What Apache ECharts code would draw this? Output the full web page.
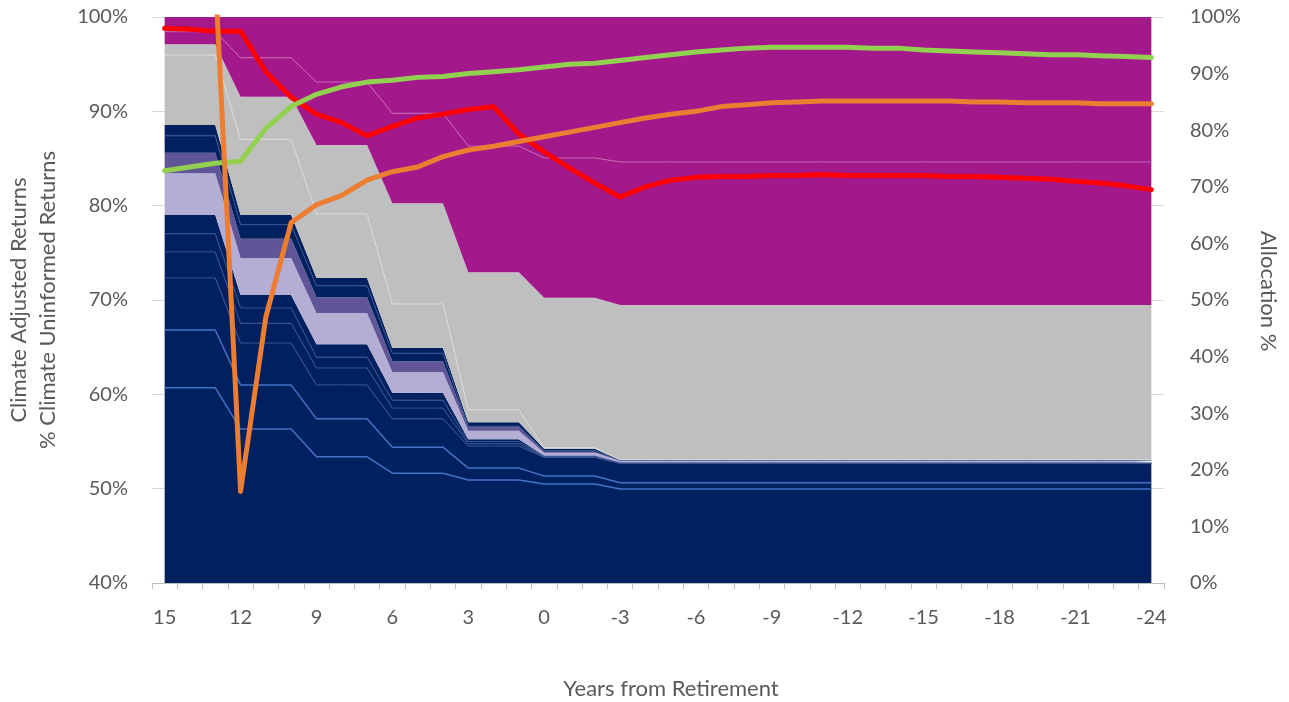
<!DOCTYPE html>
<html>
<head>
<meta charset="utf-8">
<script src="https://cdn.jsdelivr.net/npm/echarts/dist/echarts.min.js"></script>
<style>
html,body{margin:0;padding:0;background:#ffffff;}
#chart{width:1289px;height:702px;}
</style>
</head>
<body>
<div id="chart"></div>
<script>
// Categories: years from retirement
const years = ['15','14','13','12','11','10','9','8','7','6','5','4','3','2','1','0','-1','-2','-3','-4','-5','-6','-7','-8','-9','-10','-11','-12','-13','-14','-15','-16','-17','-18','-19','-20','-21','-22','-23','-24'];

// Allocation layers (right axis, %), bottom to top
const alloc1 = [34.5,34.5,34.5,27.2,27.2,27.2,22.3,22.3,22.3,19.4,19.4,19.4,18.2,18.2,18.2,17.5,17.5,17.5,
  16.6,16.6,16.6,16.6,16.6,16.6,16.6,16.6,16.6,16.6,16.6,
  16.6,16.6,16.6,16.6,16.6,16.6,16.6,16.6,16.6,16.6,16.6];
const alloc2 = [10.2,10.2,10.2,7.8,7.8,7.8,6.7,6.7,6.7,4.6,4.6,4.6,2.1,2.1,2.1,1.4,1.4,1.4,
  1.1,1.1,1.1,1.1,1.1,1.1,1.1,1.1,1.1,1.1,1.1,
  1.1,1.1,1.1,1.1,1.1,1.1,1.1,1.1,1.1,1.1,1.1];
const alloc3 = [9.2,9.2,9.2,7.4,7.4,7.4,6.0,6.0,6.0,5.0,5.0,5.0,3.9,3.9,3.9,3.3,3.3,3.3,
  3.4,3.4,3.4,3.4,3.4,3.4,3.4,3.4,3.4,3.4,3.4,
  3.4,3.4,3.4,3.4,3.4,3.4,3.4,3.4,3.4,3.4,3.4];
const alloc4 = [4.6,4.6,4.6,3.5,3.5,3.5,3.0,3.0,3.0,1.9,1.9,1.9,0.4,0.4,0.4,0.1,0.1,0.1,
  0.05,0.05,0.05,0.05,0.05,0.05,0.05,0.05,0.05,0.05,0.05,
  0.05,0.05,0.05,0.05,0.05,0.05,0.05,0.05,0.05,0.05,0.05];
const alloc5 = [3.2,3.2,3.2,2.7,2.7,2.7,1.9,1.9,1.9,1.4,1.4,1.4,0.4,0.4,0.4,0.1,0.1,0.1,
  0.05,0.05,0.05,0.05,0.05,0.05,0.05,0.05,0.05,0.05,0.05,
  0.05,0.05,0.05,0.05,0.05,0.05,0.05,0.05,0.05,0.05,0.05];
const alloc6 = [3.3,3.3,3.3,2.3,2.3,2.3,2.3,2.3,2.3,1.3,1.3,1.3,0.4,0.4,0.4,0.1,0.1,0.1,
  0.05,0.05,0.05,0.05,0.05,0.05,0.05,0.05,0.05,0.05,0.05,
  0.05,0.05,0.05,0.05,0.05,0.05,0.05,0.05,0.05,0.05,0.05];
const alloc7 = [7.4,7.4,7.4,6.5,6.5,6.5,5.5,5.5,5.5,3.7,3.7,3.7,1.5,1.5,1.5,0.5,0.5,0.5,
  0.35,0.35,0.35,0.35,0.35,0.35,0.35,0.35,0.35,0.35,0.35,
  0.35,0.35,0.35,0.35,0.35,0.35,0.35,0.35,0.35,0.35,0.35];
const alloc8 = [3.6,3.6,3.6,3.4,3.4,3.4,2.8,2.8,2.8,1.9,1.9,1.9,0.6,0.6,0.6,0.2,0.2,0.2,
  0.05,0.05,0.05,0.05,0.05,0.05,0.05,0.05,0.05,0.05,0.05,
  0.05,0.05,0.05,0.05,0.05,0.05,0.05,0.05,0.05,0.05,0.05];
const alloc9 = [3.0,3.0,3.0,2.5,2.5,2.5,2.0,2.0,2.0,1.4,1.4,1.4,0.2,0.2,0.2,0.2,0.2,0.2,
  0.05,0.05,0.05,0.05,0.05,0.05,0.05,0.05,0.05,0.05,0.05,
  0.05,0.05,0.05,0.05,0.05,0.05,0.05,0.05,0.05,0.05,0.05];
const alloc10 = [1.9,1.9,1.9,1.7,1.7,1.7,1.4,1.4,1.4,0.9,0.9,0.9,0.7,0.7,0.7,0.3,0.3,0.3,
  0.05,0.05,0.05,0.05,0.05,0.05,0.05,0.05,0.05,0.05,0.05,
  0.05,0.05,0.05,0.05,0.05,0.05,0.05,0.05,0.05,0.05,0.05];
const alloc11 = [12.4,12.4,12.4,13.4,13.4,13.4,11.3,11.3,11.3,7.8,7.8,7.8,2.2,2.2,2.2,0.2,0.2,0.2,
  0.05,0.05,0.05,0.05,0.05,0.05,0.05,0.05,0.05,0.05,0.05,
  0.05,0.05,0.05,0.05,0.05,0.05,0.05,0.05,0.05,0.05,0.05];
const alloc12 = [1.9,1.9,1.9,7.5,7.5,7.5,12.2,12.2,12.2,17.8,17.8,17.8,24.3,24.3,24.3,26.5,26.5,26.5,
  27.3,27.3,27.3,27.3,27.3,27.3,27.3,27.3,27.3,27.3,27.3,
  27.3,27.3,27.3,27.3,27.3,27.3,27.3,27.3,27.3,27.3,27.3];
const alloc13 = [2.2,2.2,2.2,6.9,6.9,6.9,11.1,11.1,11.1,15.9,15.9,15.9,22.3,22.3,22.3,24.7,24.7,24.7,
  25.3,25.3,25.3,25.3,25.3,25.3,25.3,25.3,25.3,25.3,25.3,
  25.3,25.3,25.3,25.3,25.3,25.3,25.3,25.3,25.3,25.3,25.3];
const alloc14 = [2.6,2.6,2.6,7.2,7.2,7.2,11.5,11.5,11.5,17.0,17.0,17.0,22.8,22.8,22.8,24.9,24.9,24.9,
  25.6,25.6,25.6,25.6,25.6,25.6,25.6,25.6,25.6,25.6,25.6,
  25.6,25.6,25.6,25.6,25.6,25.6,25.6,25.6,25.6,25.6,25.6];

// Return lines (left axis, %)
const redLine = [98.8,98.7,98.5,98.5,94.2,91.5,89.7,88.8,87.4,88.4,89.3,89.7,90.2,90.5,87.6,85.7,84.0,82.4,80.9,82.0,
  82.7,83.0,83.1,83.1,83.2,83.2,83.3,83.2,83.2,83.2,83.2,83.1,83.1,83.0,82.9,82.8,82.6,82.4,82.1,81.7];
const greenLine = [83.7,84.1,84.5,84.7,88.2,90.5,91.8,92.6,93.1,93.3,93.6,93.7,94.0,94.2,94.4,94.7,95.0,95.1,95.4,95.7,
  96.0,96.3,96.5,96.7,96.8,96.8,96.8,96.8,96.7,96.7,96.5,96.4,96.3,96.2,96.1,96.0,96.0,95.9,95.8,95.7];
const orangeLine = [null,null,104.5,49.7,68.2,78.2,80.1,81.1,82.7,83.6,84.1,85.2,85.9,86.3,86.8,87.3,87.8,88.3,88.8,89.3,
  89.7,90.0,90.5,90.7,90.9,91.0,91.1,91.1,91.1,91.1,91.1,91.1,91.0,91.0,90.9,90.9,90.9,90.8,90.8,90.8];

const leftTicks = {min: 40, max: 100, interval: 10};
const rightTicks = {min: 0, max: 100, interval: 10};

const FONT = 'Lato';
const TXT = '#595959';
const NAVY = '#002060';

function area(name, data, fill, lineColor, lineWidth) {
  return {
    name: name, type: 'line', stack: 'alloc', yAxisIndex: 1, data: data,
    symbol: 'none', smooth: false, silent: true,
    areaStyle: {color: fill, opacity: 1},
    lineStyle: lineColor ? {color: lineColor, width: lineWidth} : {opacity: 0, width: 0}
  };
}
function line(name, data, color) {
  return {
    name: name, type: 'line', yAxisIndex: 0, data: data, symbol: 'none',
    smooth: false, silent: true, connectNulls: false, z: 5,
    lineStyle: {color: color, width: 5, cap: 'round', join: 'round'}
  };
}

const chart = echarts.init(document.getElementById('chart'), null, {renderer: 'canvas'});
chart.setOption({
  animation: false,
  backgroundColor: '#ffffff',
  textStyle: {fontFamily: FONT},
  grid: {left: 152, right: 125, top: 17, bottom: 119, containLabel: false, outerBoundsMode: 'none'},
  xAxis: {
    type: 'category', data: years, boundaryGap: true,
    axisLine: {show: true, lineStyle: {color: '#BFBFBF', width: 1}},
    axisTick: {show: true, interval: 0, length: 6, lineStyle: {color: '#BFBFBF'}},
    axisLabel: {interval: 2, color: TXT, fontSize: 20, fontFamily: FONT, margin: 25},
    splitLine: {show: false},
    name: 'Years from Retirement', nameLocation: 'middle', nameGap: 95,
    nameTextStyle: {color: TXT, fontSize: 22, fontFamily: FONT, padding: [0, 0, 0, 26]}
  },
  yAxis: [
    {
      type: 'value', position: 'left', min: leftTicks.min, max: leftTicks.max, interval: leftTicks.interval,
      axisLine: {show: false}, axisTick: {show: false},
      axisLabel: {formatter: '{value}%', color: TXT, fontSize: 20, fontFamily: FONT, margin: 24},
      splitLine: {show: true, lineStyle: {color: '#D9D9D9', width: 1}},
      name: 'Climate Adjusted Returns\n% Climate Uninformed Returns',
      nameLocation: 'middle', nameRotate: 90, nameGap: 90,
      nameTextStyle: {color: TXT, fontSize: 22, fontFamily: FONT, lineHeight: 29}
    },
    {
      type: 'value', position: 'right', min: rightTicks.min, max: rightTicks.max, interval: rightTicks.interval,
      axisLine: {show: false}, axisTick: {show: false},
      axisLabel: {formatter: '{value}%', color: TXT, fontSize: 20, fontFamily: FONT, margin: 26},
      splitLine: {show: false},
      name: 'Allocation %', nameLocation: 'middle', nameRotate: -90, nameGap: 93,
      nameTextStyle: {color: TXT, fontSize: 22, fontFamily: FONT, padding: [0, 18, 0, 0]}
    }
  ],
  series: [
    area('Layer 1', alloc1, NAVY, '#4472C4', 1.5),
    area('Layer 2', alloc2, NAVY, '#4472C4', 1.5),
    area('Layer 3', alloc3, NAVY, '#3A5590', 1),
    area('Layer 4', alloc4, NAVY, '#3A5590', 1),
    area('Layer 5', alloc5, NAVY, '#3A5590', 1),
    area('Layer 6', alloc6, NAVY, null, 0),
    area('Layer 7', alloc7, '#B4ADD4', null, 0),
    area('Layer 8', alloc8, '#5F5597', null, 0),
    area('Layer 9', alloc9, NAVY, '#3A5590', 1),
    area('Layer 10', alloc10, NAVY, null, 0),
    area('Layer 11', alloc11, '#BFBFBF', '#DCDCDC', 1),
    area('Layer 12', alloc12, '#BFBFBF', null, 0),
    area('Layer 13', alloc13, '#A3198B', '#C467B5', 1),
    area('Layer 14', alloc14, '#A3198B', null, 0),
    line('Red', redLine, '#FF0000'),
    line('Green', greenLine, '#92D050'),
    line('Orange', orangeLine, '#ED7D31')
  ]
});
</script>
</body>
</html>
